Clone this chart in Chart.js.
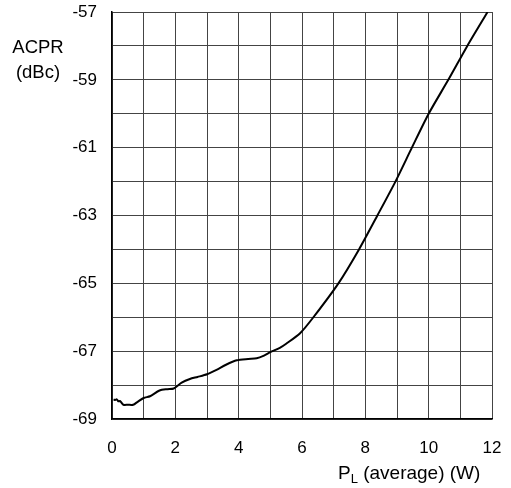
<!DOCTYPE html>
<html>
<head>
<meta charset="utf-8">
<script src="https://cdn.jsdelivr.net/npm/chart.js@4.4.1/dist/chart.umd.min.js"></script>
<style>
    body { margin: 0; background: #ffffff; }
    #acprChart { display: block; }
</style>
</head>
<body>
<canvas id="acprChart" width="511" height="488"></canvas>
<script>
// power (W) vs ACPR (dBc)
const powerW = [0.05, 0.1, 0.15, 0.2, 0.25, 0.3, 0.36, 0.5, 0.67, 0.8, 1.0, 1.2, 1.5, 1.75, 1.95,
    2.2, 2.46, 2.7, 3.0, 3.3, 3.6, 3.94, 4.3, 4.57, 4.8, 5.0, 5.3, 5.5, 5.94, 6.36, 7.15, 7.8,
    8.38, 8.95, 9.47, 10.0, 10.62, 11.22, 11.86];
const acpr = [-68.42, -68.44, -68.42, -68.48, -68.47, -68.52, -68.58, -68.58, -68.58, -68.5, -68.38, -68.33, -68.16, -68.12, -68.1,
    -67.93, -67.82, -67.76, -67.68, -67.55, -67.4, -67.27, -67.23, -67.21, -67.13, -67.03, -66.9, -66.78, -66.47, -66.0, -65.0, -64.0,
    -63.0, -62.0, -61.0, -60.0, -59.0, -58.0, -57.0];
const xLabels = [0, 2, 4, 6, 8, 10, 12];
const yLabels = [-69, -67, -65, -63, -61, -59, -57];

const FONT = '"Liberation Sans", Arial, sans-serif';

// axis titles drawn by hand (y title sits top-left, x title has a subscript)
const axisTitles = {
    id: 'axisTitles',
    afterDraw(chart) {
        const ctx = chart.ctx;
        ctx.save();
        ctx.fillStyle = '#000';
        ctx.textBaseline = 'middle';
        ctx.textAlign = 'center';
        ctx.font = '18.5px ' + FONT;
        ctx.fillText('ACPR', 38, 48);
        ctx.fillText('(dBc)', 38, 73);

        ctx.textAlign = 'left';
        let x = 338, y = 474;
        ctx.font = '19px ' + FONT;
        ctx.fillText('P', x, y);
        x += ctx.measureText('P').width;
        ctx.font = '13px ' + FONT;
        ctx.fillText('L', x, y + 5);
        x += ctx.measureText('L').width;
        ctx.font = '19px ' + FONT;
        ctx.fillText(' (average) (W)', x, y);
        ctx.restore();
    }
};

new Chart(document.getElementById('acprChart'), {
    type: 'line',
    data: {
        datasets: [{
            data: powerW.map((p, i) => ({ x: p, y: acpr[i] })),
            borderColor: '#000',
            borderWidth: 2,
            pointRadius: 0,
            tension: 0.25,
            fill: false
        }]
    },
    options: {
        responsive: false,
        animation: false,
        layout: { padding: { top: 12, right: 19, left: 0, bottom: 0 } },
        plugins: {
            legend: { display: false },
            tooltip: { enabled: false }
        },
        scales: {
            x: {
                type: 'linear',
                min: 0,
                max: 12,
                afterFit: scale => {
                    scale.height = 69;
                    scale.paddingLeft = 0;
                    scale.paddingRight = 0;
                },
                grid: { color: '#444', lineWidth: 1, drawTicks: false },
                border: { color: '#000', width: 1.5 },
                ticks: {
                    stepSize: 1,
                    padding: 19,
                    color: '#000',
                    font: { family: FONT, size: 17 },
                    maxRotation: 0,
                    autoSkip: false,
                    callback: v => xLabels.includes(v) ? String(v) : ''
                }
            },
            y: {
                min: -69,
                max: -57,
                afterFit: scale => {
                    scale.width = 112;
                    scale.paddingTop = 0;
                    scale.paddingBottom = 0;
                },
                grid: { color: '#444', lineWidth: 1, drawTicks: false },
                border: { color: '#000', width: 1.5 },
                ticks: {
                    stepSize: 1,
                    padding: 15,
                    color: '#000',
                    font: { family: FONT, size: 17 },
                    autoSkip: false,
                    callback: v => yLabels.includes(v) ? String(v) : ''
                }
            }
        }
    },
    plugins: [axisTitles]
});
</script>
</body>
</html>
